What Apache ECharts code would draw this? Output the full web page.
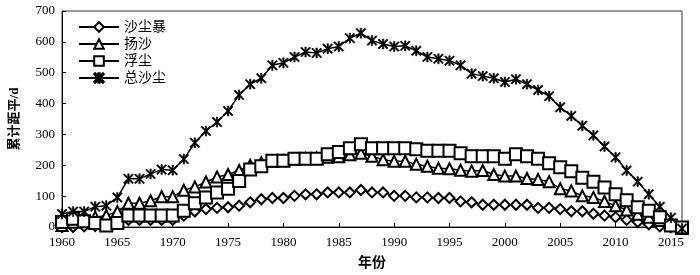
<!DOCTYPE html>
<html>
<head>
<meta charset="utf-8">
<script src="https://cdn.jsdelivr.net/npm/echarts@6/dist/echarts.min.js"></script>
<style>html,body{margin:0;padding:0;background:#fff}#c{width:700px;height:275px}</style>
</head>
<body>
<div id="c"></div>
<script>
var years = [];
for (var y = 1960; y <= 2016; y++) years.push(y);
var seriesNames = ['沙尘暴', '扬沙', '浮尘', '总沙尘'];
var yTicks = [0, 100, 200, 300, 400, 500, 600, 700];
var xTicks = [1960, 1965, 1970, 1975, 1980, 1985, 1990, 1995, 2000, 2005, 2010, 2015];

var sandstorm = [0, 0, 2, 3, 5, 21, 23, 23, 23, 23, 23, 37, 50, 58, 62, 64, 69,
  80, 90, 94, 94, 101, 106, 106, 112, 112, 112, 120, 112, 112, 101, 101, 96, 96, 94, 94, 83,
  80, 72, 72, 72, 72, 72, 62, 62, 58, 51, 51, 43, 37, 32, 23, 16, 9, 2, 0, -3];
var blowingSand = [5, 15, 18, 32, 37, 50, 77, 77, 85, 98, 98, 119, 130, 146, 162, 170, 183,
  200, 208, 212, 215, 220, 222, 224, 226, 228, 234, 239, 229, 218, 213, 213, 203, 197, 190, 189, 184,
  181, 183, 170, 165, 165, 157, 154, 147, 124, 117, 101, 96, 83, 69, 55, 41, 32, 21, 9, -5];
var floatingDust = [16, 27, 19, 13, 5, 13, 37, 37, 37, 37, 37, 53, 77, 96, 112, 124, 149,
  186, 197, 215, 215, 221, 221, 221, 236, 243, 255, 268, 255, 255, 255, 255, 252, 247, 247, 247, 239,
  229, 229, 229, 221, 236, 229, 221, 207, 194, 181, 160, 147, 128, 106, 87, 64, 53, 32, 5, -2];
var totalDust = [42, 50, 50, 66, 69, 96, 156, 156, 172, 186, 184, 220, 273, 311, 340, 376, 428,
  463, 482, 524, 532, 551, 567, 564, 578, 585, 612, 628, 604, 593, 585, 587, 571, 551, 545, 539, 524,
  497, 489, 482, 470, 479, 463, 444, 424, 388, 360, 328, 297, 261, 226, 183, 147, 106, 66, 30, -5];

function pairs(vals) { return years.map(function (yr, i) { return [yr, vals[i]]; }); }

var starPath = 'path://M4.3 0L5.7 0L5.7 10L4.3 10Z M0 1L1 0L10 9L9 10Z M9 0L10 1L1 10L0 9Z';
var serif = '"Times New Roman","Liberation Serif","Noto Sans CJK SC",serif';

var chart = echarts.init(document.getElementById('c'), null, {renderer: 'canvas'});
function mk(name, vals, symbol, size) {
  return {
    name: name, type: 'line', data: pairs(vals), symbol: symbol, symbolSize: size,
    clip: false, showAllSymbol: true,
    lineStyle: {color: '#000', width: 1.5},
    itemStyle: {color: '#000', borderColor: '#000', borderWidth: symbol === starPath ? 0.6 : 1.3},
    emphasis: {disabled: true}, animation: false
  };
}
chart.setOption({
  animation: false,
  backgroundColor: '#fff',
  grid: {left: 57, right: 18, top: 11, bottom: 45, show: true, borderColor: '#333', borderWidth: 1, containLabel: false},
  legend: {
    orient: 'vertical', left: 73, top: 15, itemWidth: 40, itemHeight: 12, itemGap: 3,
    data: seriesNames,
    textStyle: {fontFamily: serif, fontSize: 14, color: '#000'}
  },
  xAxis: {
    type: 'value', min: 1960, max: 2016, interval: 5,
    name: '年份', nameLocation: 'middle', nameGap: 29,
    nameTextStyle: {fontFamily: serif, fontSize: 14, fontWeight: 'bold', color: '#000'},
    axisLine: {lineStyle: {color: '#000', width: 1}},
    axisTick: {inside: true, length: 4, lineStyle: {color: '#000'}},
    splitLine: {show: false},
    axisLabel: {fontFamily: serif, fontSize: 13, color: '#000', margin: 9,
      formatter: function (v) { return xTicks.indexOf(v) >= 0 ? String(v) : ''; }}
  },
  yAxis: {
    type: 'value', min: 0, max: 700, interval: 100,
    name: '累计距平/d', nameLocation: 'middle', nameGap: 41, nameRotate: 90,
    nameTextStyle: {fontFamily: serif, fontSize: 13, fontWeight: 'bold', color: '#000'},
    axisLine: {show: true, lineStyle: {color: '#000', width: 1}},
    axisTick: {show: true, inside: true, length: 4, lineStyle: {color: '#000'}},
    splitLine: {show: false},
    axisLabel: {fontFamily: serif, fontSize: 13, color: '#000', margin: 7,
      formatter: function (v) { return yTicks.indexOf(v) >= 0 ? String(v) : ''; }}
  },
  series: [
    mk(seriesNames[0], sandstorm, 'emptyDiamond', 10),
    mk(seriesNames[1], blowingSand, 'emptyTriangle', 11),
    mk(seriesNames[2], floatingDust, 'emptyRect', 12),
    mk(seriesNames[3], totalDust, starPath, 10)
  ]
});
</script>
</body>
</html>
